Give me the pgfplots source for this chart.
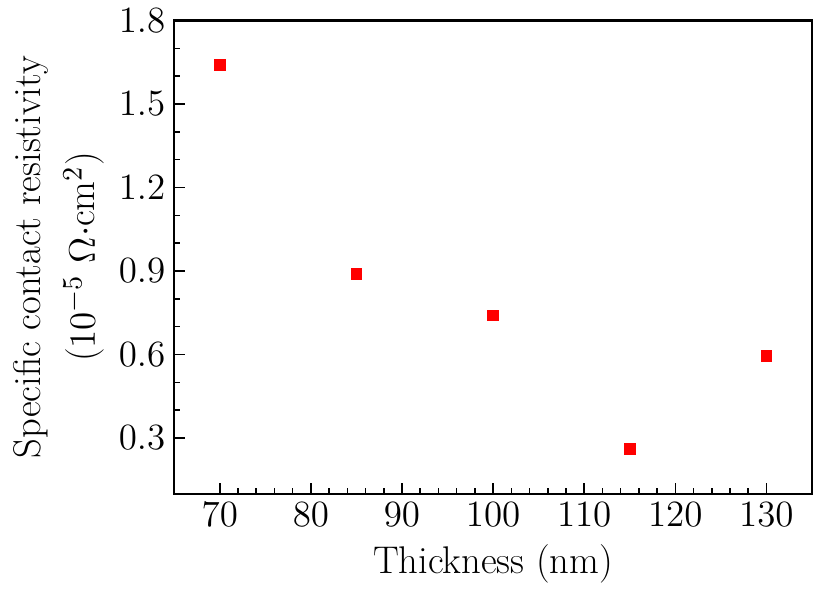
\documentclass[border=0pt]{standalone}
\usepackage{pgfplots}
\pgfplotsset{compat=1.18}
\begin{document}
\begin{tikzpicture}
\begin{axis}[
  scale only axis,
  width=248pt, height=184pt,
  xmin=65, xmax=135, ymin=0.1, ymax=1.8,
  xtick={70,80,...,130},
  ytick={0.3,0.6,...,1.8},
  yticklabel style={/pgf/number format/.cd,fixed,fixed zerofill,precision=1},
  minor x tick num=4,
  minor y tick num=2,
  tick align=inside,
  xtick pos=left, ytick pos=left,
  major tick length=4pt, minor tick length=2.4pt,
  axis line style={line width=0.8pt},
  every tick/.style={black, line width=0.6pt},
  ticklabel style={font=\fontsize{14.2}{17}\selectfont},
  xlabel={Thickness (nm)},
  ylabel={\begin{tabular}{@{}c@{}}Specific contact resistivity\\[3pt]($10^{-5}$ $\Omega{\cdot}$cm$^2$)\end{tabular}},
  ylabel style={font=\fontsize{15}{18}\selectfont, yshift=-3pt},
  xlabel style={font=\fontsize{15}{18}\selectfont},
]
\addplot[only marks, mark=square*, mark size=2.1pt, color=red] coordinates {
(70,1.64) (85,0.89) (100,0.74) (115,0.262) (130,0.595)
};
\end{axis}
\end{tikzpicture}
\end{document}
